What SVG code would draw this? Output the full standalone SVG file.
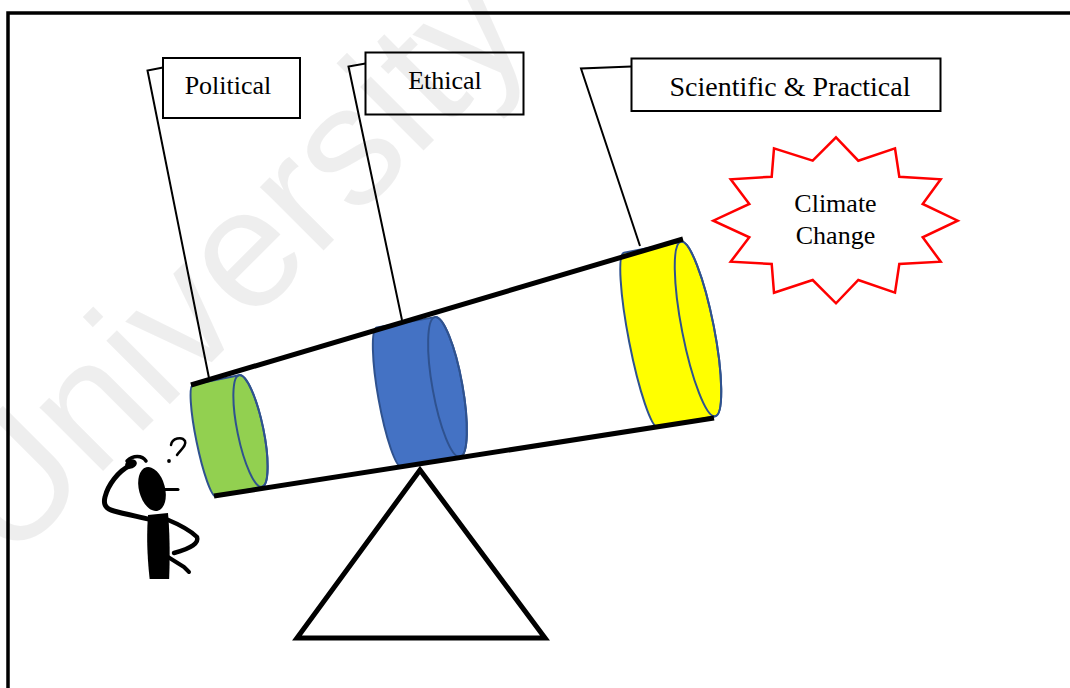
<svg xmlns="http://www.w3.org/2000/svg" width="1070" height="688" viewBox="0 0 1070 688">
  <style>
    .lbl { font-family: "Liberation Serif", "Times New Roman", serif; font-size: 26px; fill: #000; }
    .box { fill: #fff; stroke: #000; stroke-width: 2; }
    .lead { fill: none; stroke: #000; stroke-width: 2; stroke-linejoin: miter; }
    .tube { stroke: #000; stroke-width: 5; stroke-linecap: butt; }
    .can { stroke: #2F528F; stroke-width: 2; }
    .ink { fill: none; stroke: #000; stroke-linecap: round; stroke-linejoin: round; }
    .mark { font-family: "Liberation Sans", Arial, sans-serif; font-size: 170px; fill: #000; fill-opacity: 0.065; }
  </style>
  <defs>
    <clipPath id="figClip">
      <rect x="90" y="420" width="130" height="159"/>
    </clipPath>
  </defs>

  <rect x="0" y="0" width="1070" height="688" fill="#fff"/>
  <!-- page frame -->
  <rect x="8" y="13" width="1090" height="700" fill="none" stroke="#000" stroke-width="3.5"/>

  <!-- fulcrum -->
  <g id="fulcrum">
    <polygon points="420,470 297,638 545,638" fill="#fff" stroke="#000" stroke-width="5" stroke-linejoin="miter"/>
  </g>

  <!-- lenses along the tube: body with flatter rear rim, full front rim -->
  <g id="lens-political" transform="translate(250.5,431) rotate(-11.6)">
    <path class="can" fill="#92D050" d="M -47,-57 L 0,-57 A 13 57 0 0 1 0,57 L -47,57 A 8 57 0 0 1 -47,-57 Z"/>
    <ellipse class="can" fill="none" cx="0" cy="0" rx="13" ry="57"/>
  </g>
  <g id="lens-ethical" transform="translate(447.5,387) rotate(-10.2)">
    <path class="can" fill="#4472C4" d="M -59,-71 L 0,-71 A 15 71 0 0 1 0,71 L -59,71 A 11 71 0 0 1 -59,-71 Z"/>
    <ellipse class="can" fill="none" cx="0" cy="0" rx="15" ry="71"/>
  </g>
  <g id="lens-scientific" transform="translate(698,329) rotate(-11.1)">
    <path class="can" fill="#FFFF00" d="M -58,-89 L 0,-89 A 16 89 0 0 1 0,89 L -58,89 A 12 89 0 0 1 -58,-89 Z"/>
    <ellipse class="can" fill="none" cx="0" cy="0" rx="16" ry="89"/>
  </g>

  <!-- telescope tube -->
  <g id="tube">
    <line class="tube" x1="191" y1="385" x2="683" y2="239"/>
    <line class="tube" x1="214" y1="496" x2="714" y2="418"/>
  </g>

  <!-- callout leaders -->
  <g id="connectors">
    <polyline class="lead" points="163,67.5 147.5,70.5 209,378"/>
    <polyline class="lead" points="365.5,63.5 348.5,66.5 402,320"/>
    <polyline class="lead" points="631.5,66.5 581,68.5 640,246"/>
  </g>

  <!-- labels -->
  <g id="label-political">
    <rect class="box" x="163" y="58" width="137" height="60"/>
    <text class="lbl" x="228" y="93.5" text-anchor="middle">Political</text>
  </g>
  <g id="label-ethical">
    <rect class="box" x="365.5" y="52.5" width="158" height="62"/>
    <text class="lbl" x="445" y="88.5" text-anchor="middle">Ethical</text>
  </g>
  <g id="label-scientific">
    <rect class="box" x="631.5" y="58.5" width="309" height="52.5"/>
    <text class="lbl" x="790" y="96" text-anchor="middle" style="font-size:28px">Scientific &amp; Practical</text>
  </g>

  <!-- target burst -->
  <g id="climate-change">
    <polygon fill="#fff" stroke="#FF0000" stroke-width="2.5" stroke-linejoin="miter"
      points="836,137.3 858.3,160.7 895,148.3 899.3,176.7 940.7,179.3 922.7,204 957.7,220.7 922.7,237.3 940.7,261.7 899.3,264 895,292.7 858.3,280 836,303.3 812.7,280 774,292.7 771.7,264 730.7,261.7 749.3,237.3 713.3,220.7 749.3,204 730.7,179.3 771.7,176.7 774,148.3 812.7,160.7"/>
    <text class="lbl" x="835.5" y="212" text-anchor="middle">Climate</text>
    <text class="lbl" x="835.5" y="244" text-anchor="middle">Change</text>
  </g>

  <!-- puzzled observer -->
  <g id="observer" clip-path="url(#figClip)">
    <path class="ink" stroke-width="2.5" d="M 171,445 C 172,438 182,436 185,441 C 187,446 180,450 177,455"/>
    <circle cx="169" cy="461" r="1.9" fill="#000"/>
    <ellipse cx="152" cy="489" rx="13" ry="22.5" fill="#000" transform="rotate(-15 152 489)"/>
    <line class="ink" stroke-width="3" x1="164" y1="489.5" x2="178" y2="489.5"/>
    <path class="ink" stroke-width="3.5" d="M 127,461 C 133,455 142,455 146,461"/>
    <ellipse cx="131" cy="464" rx="6" ry="4.5" fill="#000" transform="rotate(-20 131 464)"/>
    <path class="ink" stroke-width="5" d="M 131,465 C 118,471 108,485 105,497 C 103,505 106,509 114,511 C 125,514 140,517 152,520"/>
    <path fill="#000" d="M 148,515 C 146,540 148,565 150,582 L 169,582 C 170,560 170,535 168,513 Z"/>
    <path class="ink" stroke-width="4.5" d="M 166,519 C 178,524 190,530 197,537 C 199,543 192,548 174,553"/>
    <path class="ink" stroke-width="4" d="M 168,557 L 184,567 L 189,572"/>
  </g>

  <!-- faint page watermark -->
  <text class="mark" transform="translate(8,566) rotate(-45)">University of</text>
</svg>
